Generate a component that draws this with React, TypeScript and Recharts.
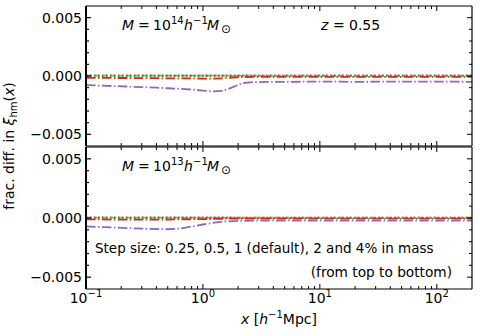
import React from 'react';
import { LineChart, Line, XAxis, YAxis, ReferenceLine } from 'recharts';

// ---- data ----
const xValues = [0.1, 0.13, 0.17, 0.22, 0.3, 0.4, 0.5, 0.65, 0.85, 1.0, 1.2, 1.5, 1.8, 2.2, 2.7, 3.5, 5, 7, 10, 15, 20, 30, 50, 70, 100, 150, 200];

// top panel: M = 1e14
const topStep025 = [0.00006, 0.00006, 0.00006, 0.00006, 0.00006, 0.00006, 0.00006, 0.00006, 0.00006, 0.00006, 0.00006, 0.00006, 0.00005, 0.00005, 0.00005, 0.00005, 0.00005, 0.00005, 0.00005, 0.00005, 0.00005, 0.00005, 0.00005, 0.00005, 0.00005, 0.00005, 0.00005];
const topStep05 = [0.00004, 0.00004, 0.00004, 0.00004, 0.00004, 0.00004, 0.00004, 0.00004, 0.00004, 0.00004, 0.00004, 0.00004, 0.00003, 0.00003, 0.00003, 0.00003, 0.00003, 0.00003, 0.00003, 0.00003, 0.00003, 0.00003, 0.00003, 0.00003, 0.00003, 0.00003, 0.00003];
const topStep1 = [0, 0, 0, 0, 0, 0, 0, 0, 0, 0, 0, 0, 0, 0, 0, 0, 0, 0, 0, 0, 0, 0, 0, 0, 0, 0, 0];
const topStep2 = [-0.00015, -0.00016, -0.00017, -0.00017, -0.00018, -0.00019, -0.0002, -0.0002, -0.00021, -0.00022, -0.00022, -0.0002, -0.00013, -0.00009, -0.00008, -0.00008, -0.00008, -0.00008, -0.00008, -0.00008, -0.00008, -0.00008, -0.00008, -0.00008, -0.00008, -0.00008, -0.00008];
const topStep4 = [-0.00078, -0.00082, -0.00086, -0.0009, -0.00095, -0.001, -0.00105, -0.0011, -0.00118, -0.00125, -0.00132, -0.00128, -0.00095, -0.0006, -0.00053, -0.0005, -0.0005, -0.00049, -0.00048, -0.00049, -0.0005, -0.00049, -0.00048, -0.00048, -0.00048, -0.00049, -0.0005];

// bottom panel: M = 1e13
const botStep025 = [0.00005, 0.00005, 0.00005, 0.00005, 0.00005, 0.00005, 0.00005, 0.00005, 0.00005, 0.00005, 0.00005, 0.00005, 0.00004, 0.00004, 0.00004, 0.00004, 0.00004, 0.00004, 0.00004, 0.00004, 0.00004, 0.00004, 0.00004, 0.00004, 0.00004, 0.00004, 0.00004];
const botStep05 = [0.00003, 0.00003, 0.00003, 0.00003, 0.00003, 0.00003, 0.00003, 0.00003, 0.00003, 0.00003, 0.00003, 0.00003, 0.00002, 0.00002, 0.00002, 0.00002, 0.00002, 0.00002, 0.00002, 0.00002, 0.00002, 0.00002, 0.00002, 0.00002, 0.00002, 0.00002, 0.00002];
const botStep1 = [0, 0, 0, 0, 0, 0, 0, 0, 0, 0, 0, 0, 0, 0, 0, 0, 0, 0, 0, 0, 0, 0, 0, 0, 0, 0, 0];
const botStep2 = [-0.00012, -0.00012, -0.00013, -0.00013, -0.00013, -0.00013, -0.00013, -0.00012, -0.0001, -0.00009, -0.00008, -0.00006, -0.00005, -0.00005, -0.00005, -0.00005, -0.00005, -0.00005, -0.00005, -0.00005, -0.00005, -0.00005, -0.00005, -0.00005, -0.00005, -0.00005, -0.00005];
const botStep4 = [-0.0007, -0.00076, -0.0008, -0.00085, -0.0009, -0.00093, -0.00095, -0.00088, -0.00068, -0.00055, -0.00042, -0.0003, -0.00026, -0.00024, -0.00023, -0.00023, -0.00023, -0.00023, -0.00023, -0.00023, -0.00023, -0.00023, -0.00023, -0.00023, -0.00023, -0.00023, -0.00023];

const xMin = 0.1;
const xMax = 200;
const xMajorTicks = [0.1, 1, 10, 100];
const xMinorTicks = [0.2, 0.3, 0.4, 0.5, 0.6, 0.7, 0.8, 0.9, 2, 3, 4, 5, 6, 7, 8, 9, 20, 30, 40, 50, 60, 70, 80, 90];
const xTickExponents = ['\u22121', '0', '1', '2'];
const yTicks = [-0.005, -0.004, -0.003, -0.002, -0.001, 0, 0.001, 0.002, 0.003, 0.004, 0.005];

// ---- styling ----
const FONT = '"DejaVu Sans", sans-serif';
const seriesStyles = [
  { key: 's025', color: '#1f77b4', dash: '1.5 2.5' },
  { key: 's05', color: '#ff7f0e', dash: '5.5 2.4' },
  { key: 's1', color: '#2ca02c', dash: '1.5 2.5' },
  { key: 's2', color: '#d62728', dash: '9.6 2.4 1.5 2.4' },
  { key: 's4', color: '#9467bd', dash: '9.6 2.4 1.5 2.4' },
];

function buildRows(a: number[], b: number[], c: number[], d: number[], e: number[]) {
  return xValues.map((x, i) => ({ x, s025: a[i], s05: b[i], s1: c[i], s2: d[i], s4: e[i] }));
}
const topRows = buildRows(topStep025, topStep05, topStep1, topStep2, topStep4);
const botRows = buildRows(botStep025, botStep05, botStep1, botStep2, botStep4);

const allXTicks = [...xMajorTicks, ...xMinorTicks].sort((p, q) => p - q);
const isMajorX = (v: number) => xMajorTicks.some((m) => Math.abs(m - v) < 1e-9);
const isMajorY = (v: number) => Math.round(v * 1000) % 5 === 0;
const fmtY = (v: number) => (Math.abs(v) < 1e-12 ? '0.000' : (v < 0 ? '\u2212' : '') + Math.abs(v).toFixed(3));

const MAJ = 5;
const MIN = 3;

function LeftTick(props: any) {
  const { x, y, payload } = props;
  const v = payload.value as number;
  const major = isMajorY(v);
  return (
    <g>
      <line x1={x} x2={x + (major ? MAJ : MIN)} y1={y} y2={y} stroke="#000" strokeWidth={1.2} />
      {major && (
        <text x={x - 4} y={y} dy="0.36em" textAnchor="end" fontSize={14} fontFamily={FONT} fill="#000">
          {fmtY(v)}
        </text>
      )}
    </g>
  );
}
function RightTick(props: any) {
  const { x, y, payload } = props;
  const major = isMajorY(payload.value);
  return <line x1={x} x2={x - (major ? MAJ : MIN)} y1={y} y2={y} stroke="#000" strokeWidth={1} />;
}
function TopTick(props: any) {
  const { x, y, payload } = props;
  const major = isMajorX(payload.value);
  return <line x1={x} x2={x} y1={y} y2={y + (major ? MAJ : MIN)} stroke="#000" strokeWidth={1} />;
}
function makeBottomTick(showLabels: boolean) {
  return function BottomTick(props: any) {
    const { x, y, payload } = props;
    const v = payload.value as number;
    const major = isMajorX(v);
    const idx = xMajorTicks.findIndex((m) => Math.abs(m - v) < 1e-9);
    return (
      <g>
        <line x1={x} x2={x} y1={y} y2={y - (major ? MAJ : MIN)} stroke="#000" strokeWidth={1} />
        {showLabels && major && (
          <text x={x} y={y + 14} textAnchor="middle" fontSize={14} fontFamily={FONT} fill="#000">
            <tspan>10</tspan>
            <tspan dy={-6} fontSize={10}>{xTickExponents[idx]}</tspan>
          </text>
        )}
      </g>
    );
  };
}

const axisLine = { stroke: '#000', strokeWidth: 1.2 };

function Panel({ rows, top, height, marginTop, xAxisHeight, showLabels }: any) {
  return (
    <div style={{ position: 'absolute', left: 0, top, width: 480, height }}>
      <LineChart width={480} height={height} data={rows} margin={{ top: marginTop, right: 7, bottom: 0, left: 0 }}>
        <XAxis xAxisId="b" orientation="bottom" dataKey="x" type="number" scale="log" domain={[xMin, xMax]} allowDataOverflow
          ticks={allXTicks} interval={0} tickSize={0} tickMargin={0} tickLine={false} axisLine={axisLine}
          height={xAxisHeight} tick={makeBottomTick(showLabels)} />
        <XAxis xAxisId="t" orientation="top" dataKey="x" type="number" scale="log" domain={[xMin, xMax]} allowDataOverflow
          ticks={allXTicks} interval={0} tickSize={0} tickMargin={0} tickLine={false} axisLine={axisLine}
          height={1} tick={TopTick} />
        <YAxis yAxisId="l" orientation="left" type="number" domain={[-0.006, 0.006]} allowDataOverflow
          ticks={yTicks} interval={0} tickSize={0} tickMargin={0} tickLine={false}
          axisLine={{ stroke: '#000', strokeWidth: 1.8 }} width={86} tick={LeftTick} />
        <YAxis yAxisId="r" orientation="right" type="number" domain={[-0.006, 0.006]} allowDataOverflow
          ticks={yTicks} interval={0} tickSize={0} tickMargin={0} tickLine={false} axisLine={axisLine}
          width={1} tick={RightTick} />
        <ReferenceLine xAxisId="b" yAxisId="l" x={xMin} stroke="#000" strokeWidth={1.8} ifOverflow="visible" />
        {seriesStyles.map((s) => (
          <Line key={s.key} xAxisId="b" yAxisId="l" dataKey={s.key} type="linear" stroke={s.color} strokeWidth={1.8}
            strokeDasharray={s.dash} dot={false} activeDot={false} isAnimationActive={false} />
        ))}
      </LineChart>
    </div>
  );
}

function MassLabel({ y, exp }: { y: number; exp: string }) {
  const t = { fontFamily: FONT, fill: '#000' };
  return (
    <text y={y} fontSize={14} {...t}>
      <tspan x={122} fontStyle="italic">M</tspan>
      <tspan x={138}>=</tspan>
      <tspan x={153}>10</tspan>
      <tspan x={171} dy={-6} fontSize={10}>{exp}</tspan>
      <tspan x={184} dy={6} fontStyle="italic">h</tspan>
      <tspan x={193} dy={-6} fontSize={10}>{'\u22121'}</tspan>
      <tspan x={207} dy={6} fontStyle="italic">M</tspan>
      <tspan x={221} dy={3} fontSize={12}>{'\u2299'}</tspan>
    </text>
  );
}

export default function App() {
  const t = { fontFamily: FONT, fill: '#000' };
  return (
    <div style={{ position: 'absolute', left: 0, top: 0, width: 480, height: 336, background: '#fff', overflow: 'hidden' }}>
      <Panel rows={topRows} top={0} height={147} marginTop={5} xAxisHeight={1} showLabels={false} />
      <Panel rows={botRows} top={146} height={190} marginTop={0} xAxisHeight={47} showLabels={true} />
      <svg width={480} height={336} style={{ position: 'absolute', left: 0, top: 0, pointerEvents: 'none' }}>
        <MassLabel y={30} exp="14" />
        <text y={30} fontSize={14} {...t}>
          <tspan x={321} fontStyle="italic">z</tspan>
          <tspan x={333}>=</tspan>
          <tspan x={349}>0.55</tspan>
        </text>
        <MassLabel y={171} exp="13" />
        <text x={95} y={253} fontSize={13.5} {...t}>
          Step size: 0.25, 0.5, 1 (default), 2 and 4% in mass
        </text>
        <text x={452} y={277} fontSize={13.7} textAnchor="end" {...t}>
          (from top to bottom)
        </text>
        <text x={279} y={324} fontSize={14} textAnchor="middle" {...t}>
          <tspan fontStyle="italic">x</tspan>
          <tspan> [</tspan>
          <tspan fontStyle="italic">h</tspan>
          <tspan dy={-6} fontSize={10}>{'\u22121'}</tspan>
          <tspan dy={6}>Mpc]</tspan>
        </text>
        <text x={14} y={146} fontSize={14} textAnchor="middle" transform="rotate(-90 14 146)" {...t}>
          <tspan>frac. diff. in </tspan>
          <tspan fontStyle="italic">ξ</tspan>
          <tspan dy={3} fontSize={10}>hm</tspan>
          <tspan dy={-3}>(</tspan>
          <tspan fontStyle="italic">x</tspan>
          <tspan>)</tspan>
        </text>
      </svg>
    </div>
  );
}
